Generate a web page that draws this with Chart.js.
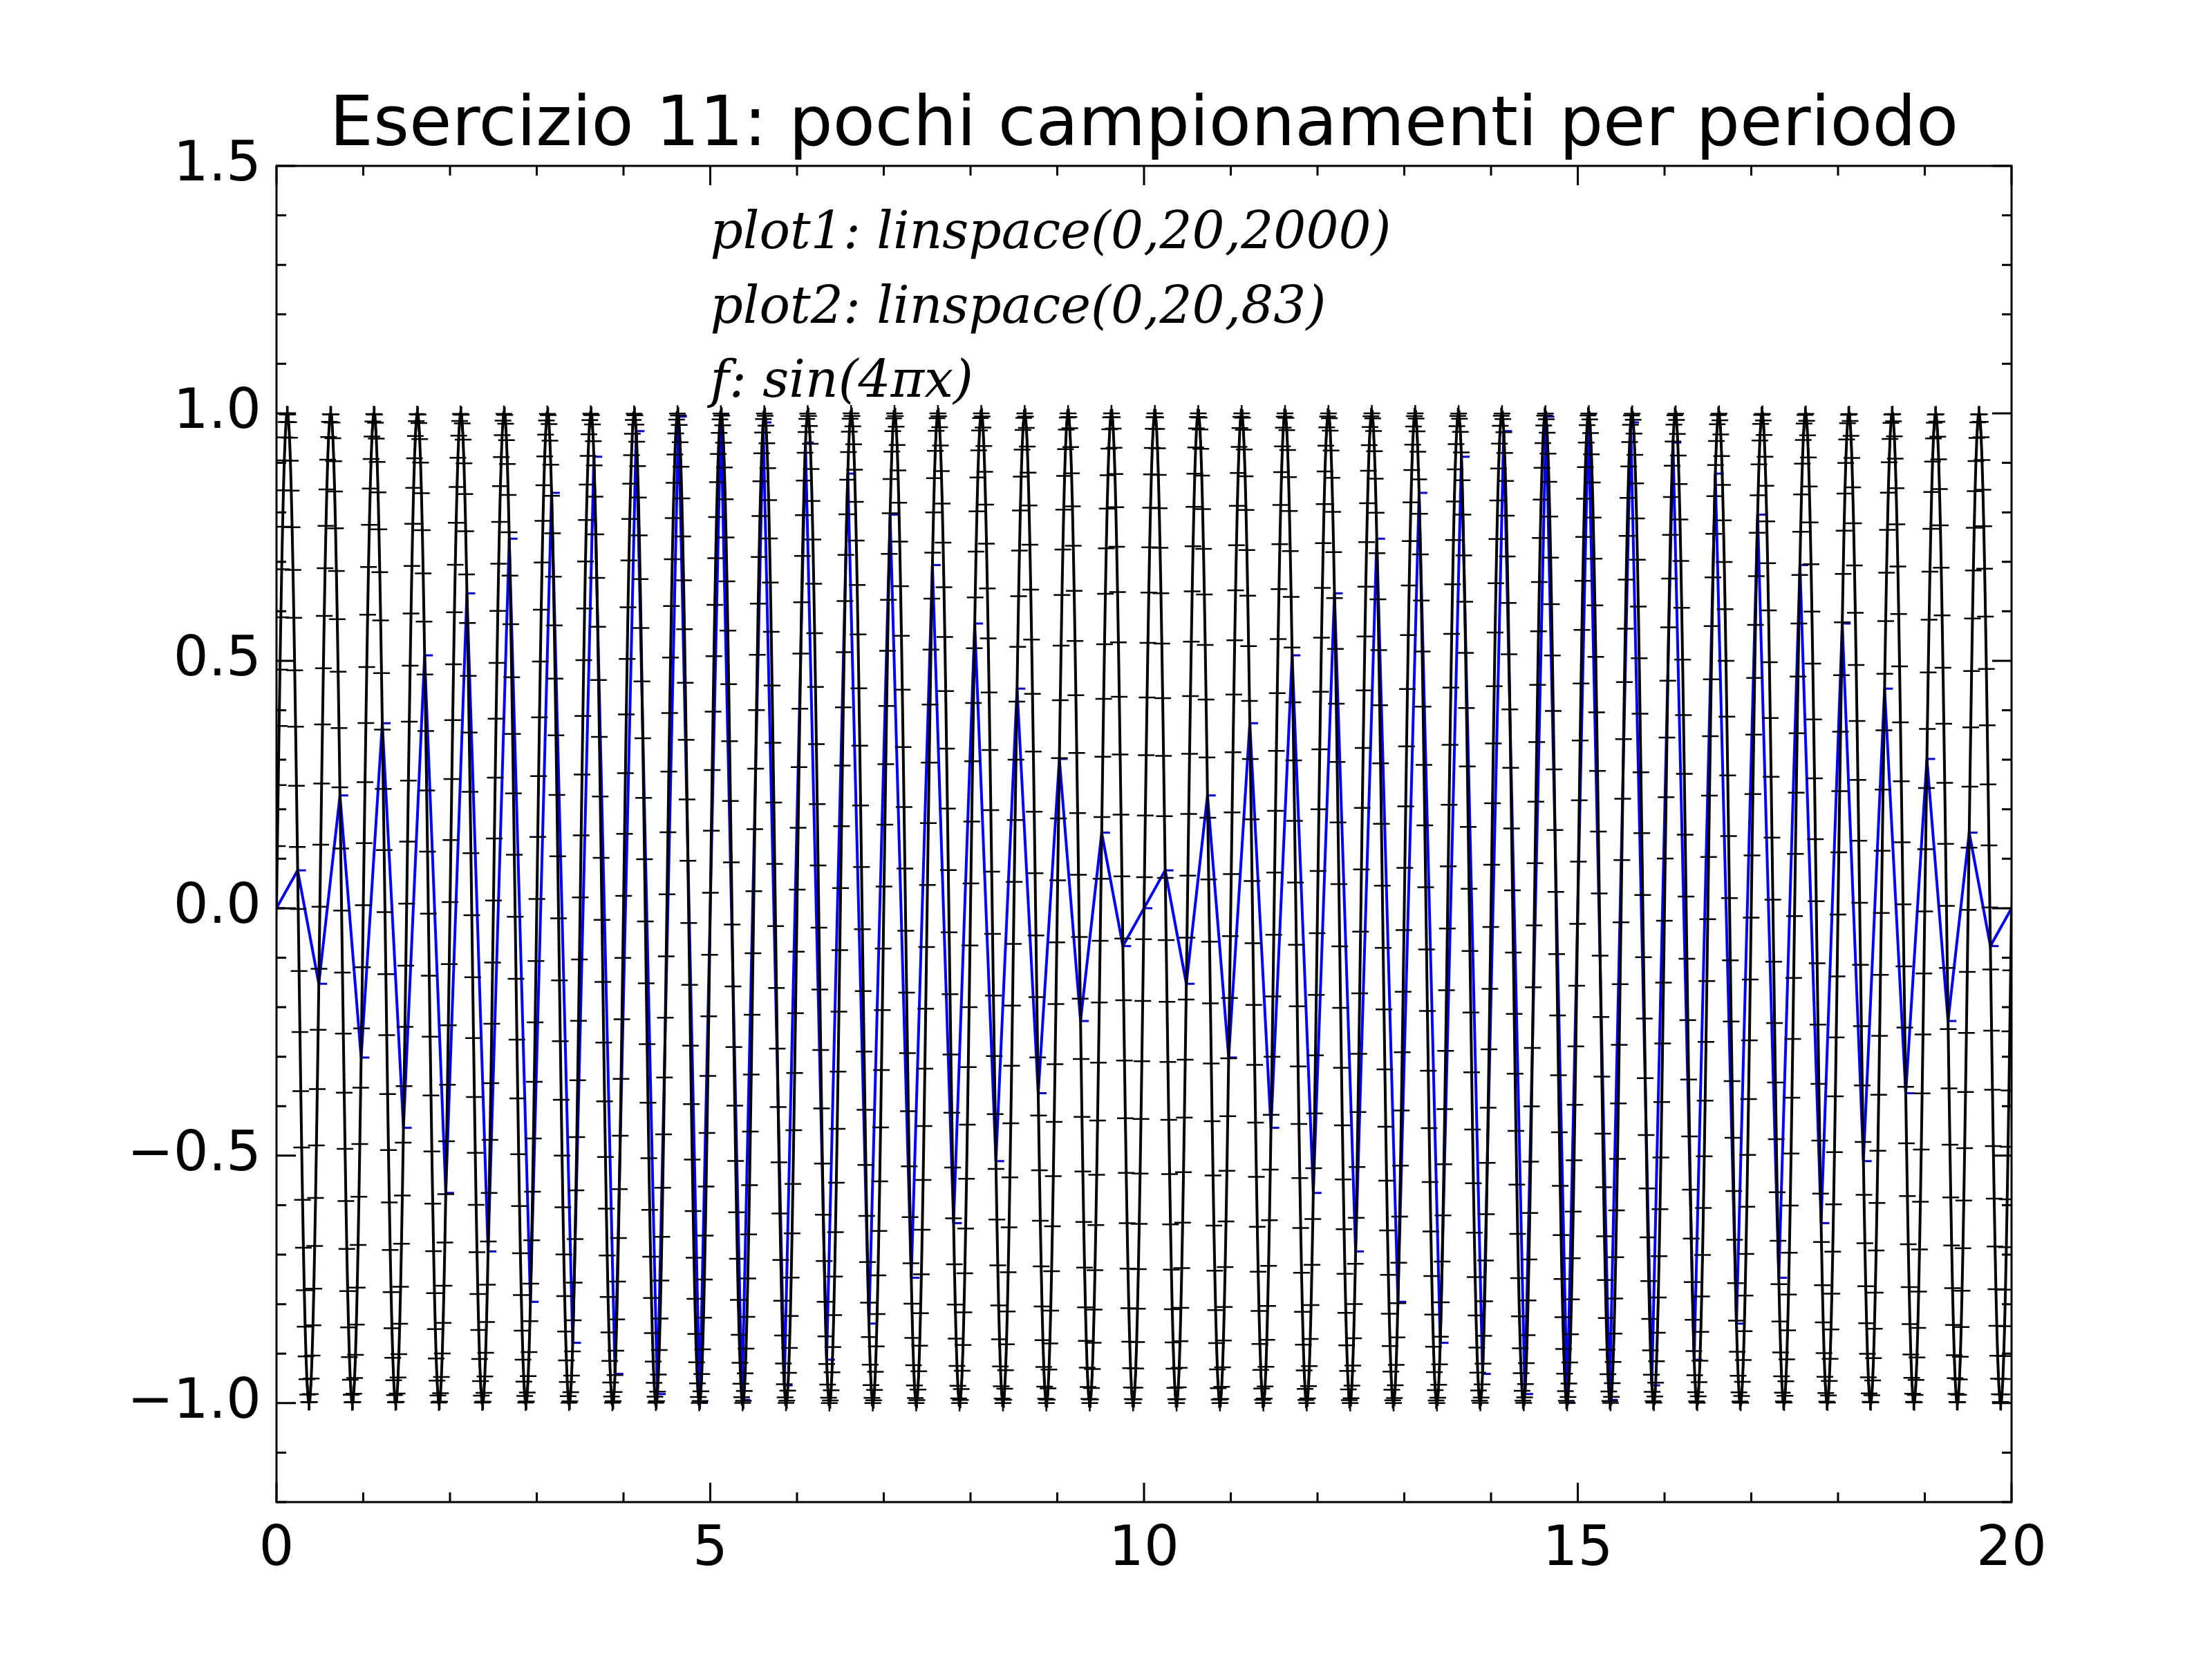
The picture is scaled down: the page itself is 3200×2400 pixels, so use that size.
<!DOCTYPE html>
<html>
<head>
<meta charset="utf-8">
<script src="https://cdn.jsdelivr.net/npm/chart.js@4.4.1/dist/chart.umd.min.js"></script>
<style>
  html, body { margin: 0; padding: 0; background: #fff; }
  #wrap { width: 3200px; height: 2400px; }
</style>
</head>
<body>
<div id="wrap"><canvas id="c" width="3200" height="2400"></canvas></div>
<script>
const TITLE = "Esercizio 11: pochi campionamenti per periodo";
const NOTES = ["plot1: linspace(0,20,2000)", "plot2: linspace(0,20,83)", "f: sin(4\u03c0x)"];
const X_TICKS = [0, 5, 10, 15, 20];
const Y_TICKS = [-1.0, -0.5, 0.0, 0.5, 1.0, 1.5];

// plot2: 83 samples
const HALF = [0.0765, -0.1527, 0.2279, -0.3017, 0.3738, -0.4437, 0.5110, -0.5753, 0.6363, -0.6935,
  0.7467, -0.7953, 0.8393, -0.8782, 0.9123, -0.9409, 0.9641, -0.9817, 0.9934, -0.9993,
  0.9993, -0.9934, 0.9817, -0.9641, 0.9409, -0.9123, 0.8782, -0.8393, 0.7953, -0.7467,
  0.6935, -0.6363, 0.5753, -0.5110, 0.4437, -0.3738, 0.3017, -0.2279, 0.1527, -0.0765];
const plot2Y = [0, ...HALF, 0, ...HALF, 0];
const plot2X = plot2Y.map((_, i) => 20 * i / 82);

// plot1: the dense reference curve f(x) = sin(4πx) on linspace(0,20,2000)
const plot1X = Array.from({ length: 2000 }, (_, i) => 20 * i / 1999);
const plot1Y = plot1X.map(x => Math.sin(4 * Math.PI * x));

const fmt = v => (v < 0 ? "\u2212" : "") + Math.abs(v).toFixed(v === 0 || Math.abs(v) % 1 ? 1 : 1);

const decor = {
  id: "decor",
  afterDraw(chart) {
    const { ctx, chartArea: a, scales: { x, y } } = chart;
    ctx.save();
    ctx.strokeStyle = "#000";
    ctx.lineWidth = 3;
    ctx.strokeRect(a.left, a.top, a.right - a.left, a.bottom - a.top);
    // inward major/minor ticks
    const tick = (px, len, vert) => {
      ctx.beginPath();
      if (vert) {
        ctx.moveTo(px, a.bottom); ctx.lineTo(px, a.bottom - len);
        ctx.moveTo(px, a.top); ctx.lineTo(px, a.top + len);
      } else {
        ctx.moveTo(a.left, px); ctx.lineTo(a.left + len, px);
        ctx.moveTo(a.right, px); ctx.lineTo(a.right - len, px);
      }
      ctx.stroke();
    };
    for (let v = 0; v <= 20; v++) tick(x.getPixelForValue(v), v % 5 ? 14 : 28, true);
    for (let k = -12; k <= 15; k++) tick(y.getPixelForValue(k / 10), k % 5 ? 14 : 28, false);
    // annotation
    ctx.fillStyle = "#000";
    ctx.font = "italic 74px 'DejaVu Serif'";
    ctx.textBaseline = "alphabetic";
    [1.35, 1.2, 1.05].forEach((yy, i) => {
      ctx.fillText(NOTES[i], x.getPixelForValue(5.0), y.getPixelForValue(yy) + 12);
    });
    // title
    ctx.font = "100px 'DejaVu Sans'";
    ctx.textAlign = "center";
    ctx.fillText(TITLE, (a.left + a.right) / 2, a.top - 30);
    ctx.restore();
  }
};

new Chart(document.getElementById("c"), {
  type: "scatter",
  data: {
    datasets: [
      {
        data: plot1X.map((v, i) => ({ x: v, y: plot1Y[i] })),
        showLine: true, borderColor: "#000", borderWidth: 4,
        pointStyle: "cross", pointRadius: 12, pointBorderWidth: 2.5, pointBorderColor: "#000"
      },
      {
        data: plot2X.map((v, i) => ({ x: v, y: plot2Y[i] })),
        showLine: true, borderColor: "#0000ff", borderWidth: 4,
        pointStyle: "dash", pointRadius: 12, pointBorderWidth: 3, pointBorderColor: "#0000ff"
      }
    ]
  },
  options: {
    responsive: false, animation: false, devicePixelRatio: 1,
    layout: { padding: { left: 150, right: 290, top: 240, bottom: 95 } },
    plugins: { legend: { display: false }, tooltip: { enabled: false } },
    scales: {
      x: {
        type: "linear", min: 0, max: 20,
        afterBuildTicks: s => { s.ticks = X_TICKS.map(v => ({ value: v })); },
        ticks: { color: "#000", font: { size: 80, family: "DejaVu Sans" }, padding: 14, maxRotation: 0 },
        grid: { display: false }, border: { display: false }
      },
      y: {
        type: "linear", min: -1.2, max: 1.5,
        afterBuildTicks: s => { s.ticks = Y_TICKS.map(v => ({ value: v })); },
        ticks: { color: "#000", font: { size: 80, family: "DejaVu Sans" }, padding: 14, callback: v => fmt(v) },
        grid: { display: false }, border: { display: false },
        afterFit: s => { s.width = 250; }
      }
    }
  },
  plugins: [decor]
});
</script>
</body>
</html>
